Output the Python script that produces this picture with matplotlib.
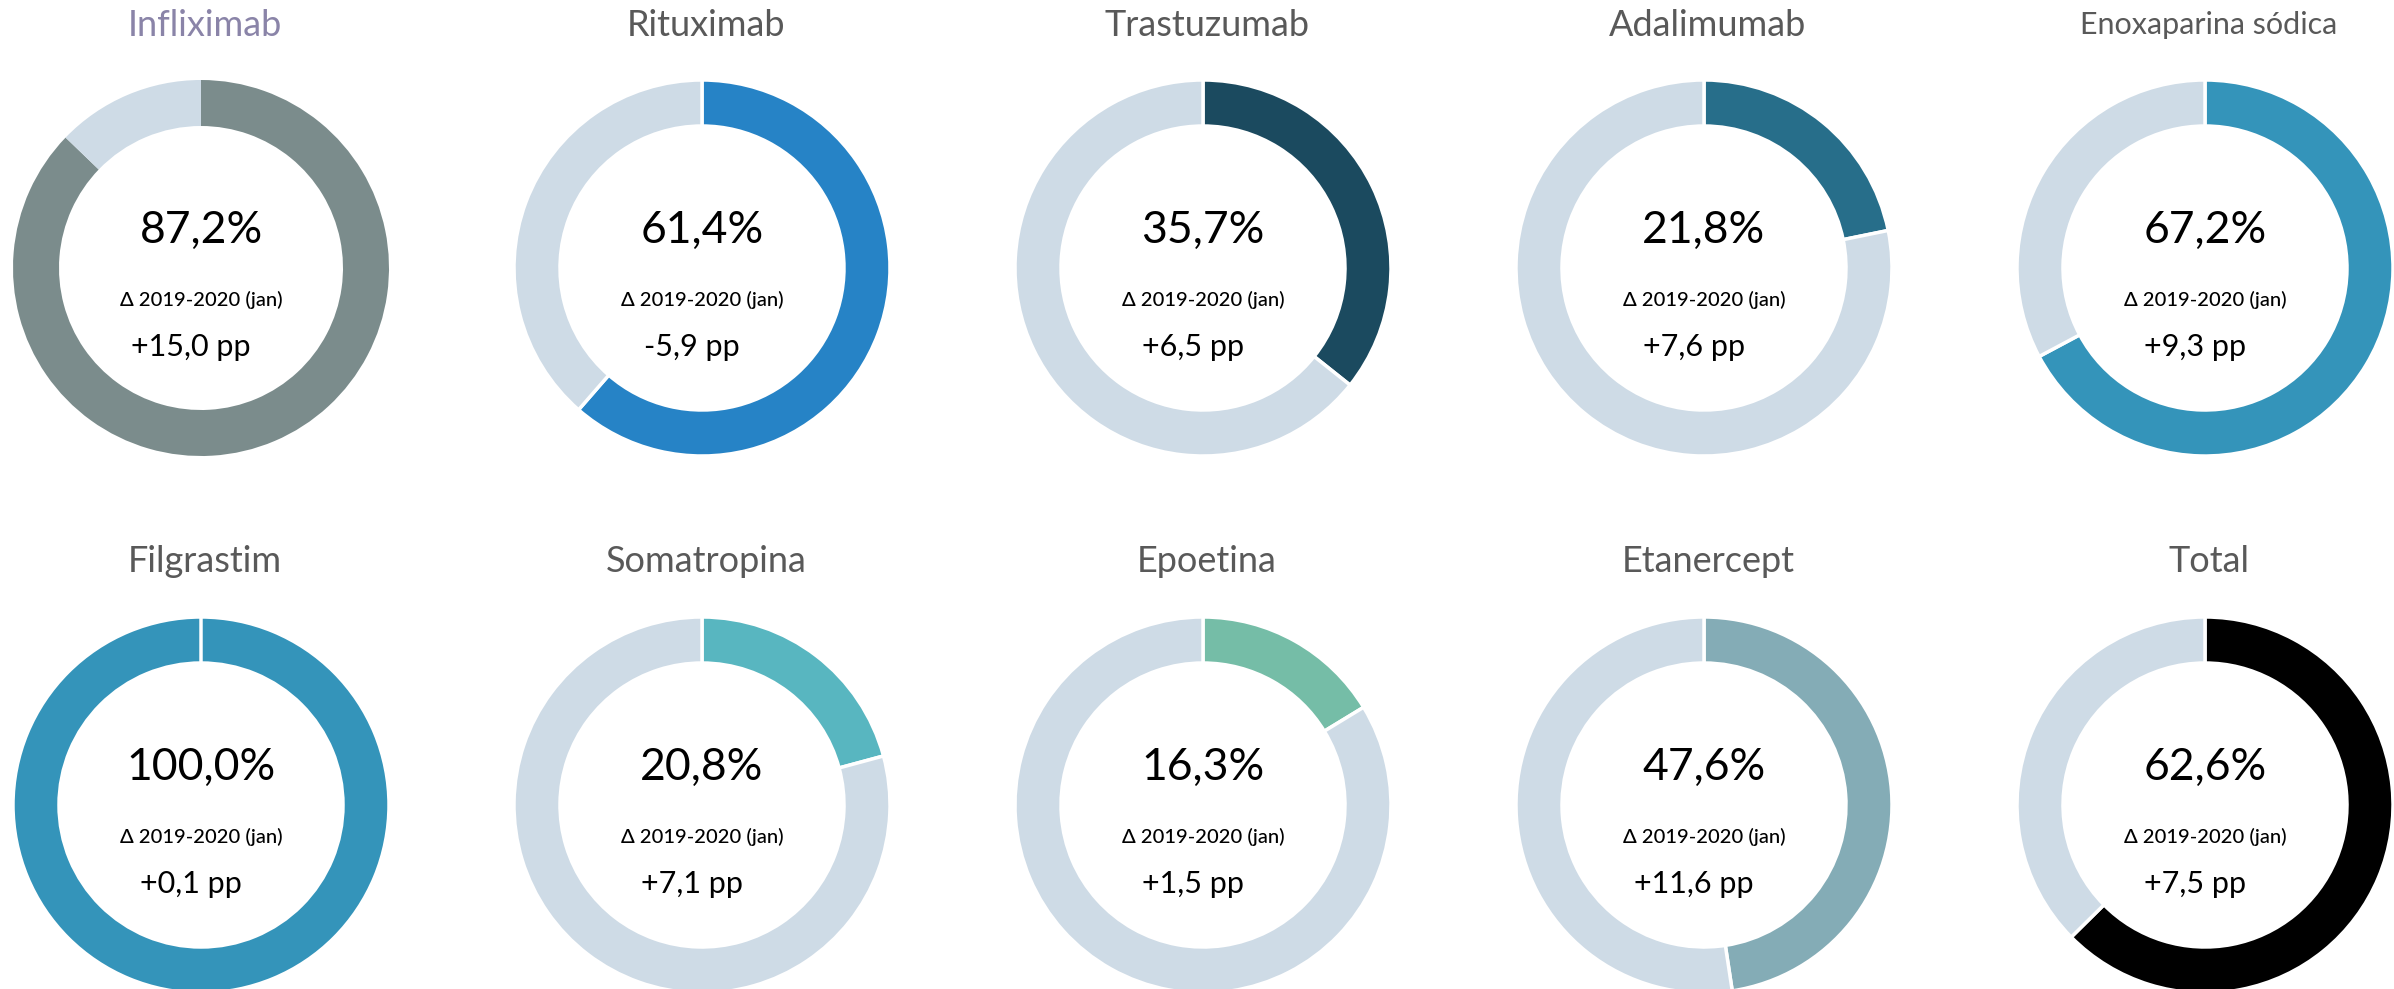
import matplotlib
matplotlib.use('Agg')
import matplotlib.pyplot as plt

# dados
nomes = ['Infliximab', 'Rituximab', 'Trastuzumab', 'Adalimumab', 'Enoxaparina sódica',
         'Filgrastim', 'Somatropina', 'Epoetina', 'Etanercept', 'Total']
share = [87.2, 61.4, 35.7, 21.8, 67.2, 100.0, 20.8, 16.3, 47.6, 62.6]
delta = [15.0, -5.9, 6.5, 7.6, 9.3, 0.1, 7.1, 1.5, 11.6, 7.5]
cores = ['#7B8C8C', '#2683C6', '#1B4A5F', '#276E8A', '#3494BA',
         '#3494BA', '#58B6C0', '#75BDA7', '#84ACB6', '#000000']
resto_cor = '#CEDBE6'
legenda_delta = 'Δ 2019-2020 (jan)'

plt.rcParams['font.family'] = ['Lato', 'DejaVu Sans']

W, H = 2394, 989
fig = plt.figure(figsize=(W / 100, H / 100), dpi=100)
ax = fig.add_axes([0, 0, 1, 1])

for i, nome in enumerate(nomes):
    lin, col = divmod(i, 5)
    cx = 201 + 501 * col
    cy = H - (268 + 537 * lin)   # eixo y para cima
    lw = 0 if nome == 'Infliximab' else 2.5
    ax.pie([share[i], 100 - share[i]], colors=[cores[i], resto_cor],
           startangle=90, counterclock=False, radius=188, center=(cx, cy),
           wedgeprops=dict(width=46, edgecolor='white', linewidth=lw))

    # titulo
    tcor = '#8A84A8' if nome == 'Infliximab' else '#595959'
    tam = 22 if len(nome) > 12 else 26
    ax.text(cx + 4, cy + 243, nome, ha='center', va='center', fontsize=tam, color=tcor)

    # textos do centro
    ax.text(cx, cy + 38, f'{share[i]:.1f}'.replace('.', ',') + '%',
            ha='center', va='center', fontsize=32, color='black')
    ax.text(cx, cy - 32, legenda_delta, ha='center', va='center', fontsize=14.5,
            color='black', fontweight='medium')
    ax.text(cx - 10, cy - 79, f'{delta[i]:+.1f}'.replace('.', ',') + ' pp',
            ha='center', va='center', fontsize=22, color='black')

ax.set_xlim(0, W)
ax.set_ylim(0, H)
ax.axis('off')

fig.savefig('out.png', dpi=100, facecolor='white')
